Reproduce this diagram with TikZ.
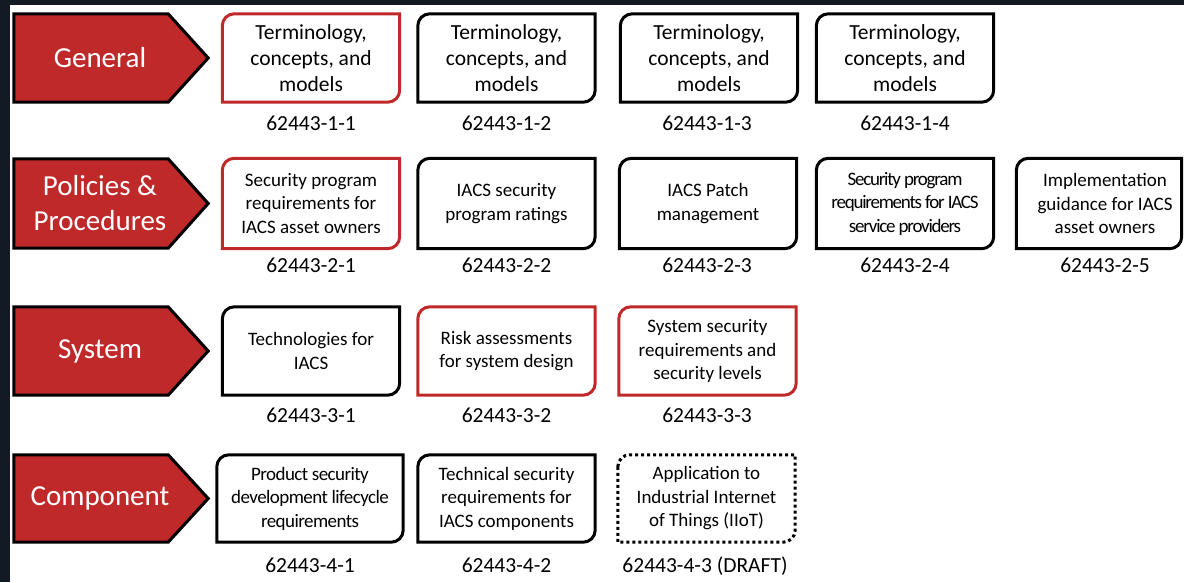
\documentclass[tikz,border=0pt]{standalone}
\usepackage{fontspec}
\setmainfont{Carlito}
\newfontfamily\condA[LetterSpace=-6.5]{Carlito}
\newfontfamily\condB[LetterSpace=-3]{Carlito}
\usetikzlibrary{calc,backgrounds}
\definecolor{bgdark}{HTML}{131A24}
\definecolor{ired}{HTML}{C0292A}
\tikzset{
  box/.style={minimum width=177pt, minimum height=88pt, inner sep=0pt, align=center, font=\fontsize{19}{23.5}\selectfont},
  boxA/.style={box, font=\fontsize{21.5}{26}\selectfont},
  lbl/.style={anchor=base, inner sep=0pt, font=\fontsize{21.5}{26}\selectfont},
  cat/.style={minimum width=172pt, minimum height=88pt, inner sep=0pt, align=center, text=white, font=\fontsize{29}{35}\selectfont},
  catline/.style={draw=black, fill=ired, line width=3pt, line join=miter},
  bline/.style={draw=black, line width=3pt},
  rline/.style={draw=ired, line width=3pt},
  dline/.style={draw=black, line width=3pt, dash pattern=on 3pt off 3pt},
}
% #1 right trim, #2 line style, #3 node name
\newcommand\dboxline[3][0pt]{%
  \draw[#2] ([yshift=-12pt]#3.north west) arc[start angle=180,end angle=90,radius=12pt]
    -- ([xshift=-#1]#3.north east) -- ([xshift=-#1,yshift=12pt]#3.south east)
    arc[start angle=0,end angle=-90,radius=12pt] -- (#3.south west) -- cycle;}
\newcommand\catline[1]{%
  \draw[catline] (#1.north west) -- ([xshift=-18pt]#1.north east) -- ([xshift=22pt]#1.east)
    -- ([xshift=-18pt]#1.south east) -- (#1.south west) -- cycle;}
\begin{document}
\begin{tikzpicture}[x=1pt,y=-1pt]
\useasboundingbox (0,0) rectangle (1184,582);
\begin{scope}[on background layer]
  \fill[bgdark] (0,0) rectangle (1184,582);
  \fill[white] (10,5) rectangle (1184,582);
\end{scope}

% categories
\node[cat] (cg) at (100,58) {General};
\node[cat, minimum height=89pt] (cp) at (100,203.5) {Policies \&\\Procedures};
\node[cat] (cs) at (100,351) {System};
\node[cat, minimum height=87pt] (cc) at (100,498.5) {Component};

% row 1
\node[boxA] (b11) at (311,58) {Terminology,\\concepts, and\\models};
\node[boxA] (b12) at (506.5,58) {Terminology,\\concepts, and\\models};
\node[boxA] (b13) at (709,58) {Terminology,\\concepts, and\\models};
\node[boxA] (b14) at (905,58) {Terminology,\\concepts, and\\models};
\node[lbl] (l11) at (311,130) {62443-1-1};
\node[lbl] (l12) at (506.5,130) {62443-1-2};
\node[lbl] (l13) at (707,130) {62443-1-3};
\node[lbl] (l14) at (905,130) {62443-1-4};

% row 2
\node[box, minimum height=90pt] (b21) at (311,203.5) {Security program\\requirements for\\IACS asset owners};
\node[box, minimum height=90pt] (b22) at (506.5,203.5) {IACS security\\program ratings};
\node[box, minimum height=90pt] (b23) at (708,203.5) {IACS Patch\\management};
\node[box, minimum height=90pt] (b24) at (905,203.5) {\condA Security program\\\condA requirements for IACS\\\condA service providers};
\node[box, minimum height=90pt] (b25) at (1105,203.5) {Implementation\\guidance for IACS\\asset owners};
\node[lbl] (l21) at (311,272) {62443-2-1};
\node[lbl] (l22) at (506.5,272) {62443-2-2};
\node[lbl] (l23) at (707,272) {62443-2-3};
\node[lbl] (l24) at (905,272) {62443-2-4};
\node[lbl] (l25) at (1105,272) {62443-2-5};

% row 3
\node[box] (b31) at (311,351) {Technologies for\\IACS};
\node[box] (b32) at (506.5,351) {Risk assessments\\for system design};
\node[box] (b33) at (707.5,351) {System security\\requirements and\\security levels};
\node[lbl] (l31) at (311,422) {62443-3-1};
\node[lbl] (l32) at (506.5,422) {62443-3-2};
\node[lbl] (l33) at (707,422) {62443-3-3};

% row 4
\node[box, minimum width=186pt, minimum height=87pt] (b41) at (310,498.5) {\condB Product security\\\condB development lifecycle\\\condB requirements};
\node[box, minimum height=87pt] (b42) at (506.5,498.5) {Technical security\\requirements for\\IACS components};
\node[box, minimum height=87pt] (b43) at (706.5,498.5) {Application to\\Industrial Internet\\of Things (IIoT)};
\node[lbl] (l41) at (310,572) {62443-4-1};
\node[lbl] (l42) at (506.5,572) {62443-4-2};
\node[lbl] (l43) at (705,572) {62443-4-3 (DRAFT)};

\begin{scope}[on background layer]
  \catline{cg}\catline{cp}\catline{cs}\catline{cc}
\end{scope}
\dboxline{rline}{b11}\dboxline{bline}{b12}\dboxline{bline}{b13}\dboxline{bline}{b14}
\dboxline{rline}{b21}\dboxline{bline}{b22}\dboxline{bline}{b23}\dboxline{bline}{b24}
\dboxline[12pt]{bline}{b25}
\dboxline{bline}{b31}\dboxline{rline}{b32}\dboxline{rline}{b33}
\dboxline{bline}{b41}\dboxline{bline}{b42}\dboxline{dline}{b43}
\end{tikzpicture}
\end{document}
